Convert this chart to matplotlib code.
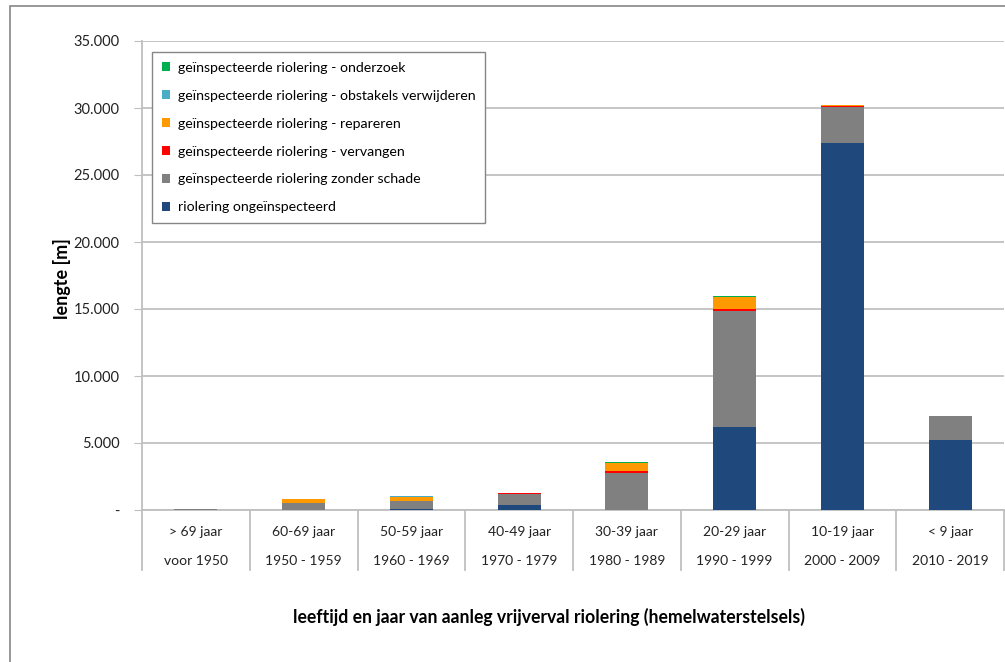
import numpy as np
import matplotlib.pyplot as plt
from matplotlib.patches import Patch, Rectangle
from matplotlib.ticker import FuncFormatter
import matplotlib.transforms as mtransforms

plt.rcParams['font.family'] = ['Lato', 'DejaVu Sans']

# leeftijdsklassen en aanlegperiodes
leeftijd = ['> 69 jaar', '60-69 jaar', '50-59 jaar', '40-49 jaar',
            '30-39 jaar', '20-29 jaar', '10-19 jaar', '< 9 jaar']
periode = ['voor 1950', '1950 - 1959', '1960 - 1969', '1970 - 1979',
           '1980 - 1989', '1990 - 1999', '2000 - 2009', '2010 - 2019']

# lengte per categorie [m]
ongeinspecteerd = [0, 0, 70, 370, 0, 6190, 27390, 5250]
zonder_schade = [70, 500, 620, 820, 2790, 8630, 2690, 1740]
vervangen = [0, 40, 0, 50, 150, 200, 50, 0]
repareren = [0, 300, 300, 0, 600, 870, 70, 0]
obstakels = [0, 0, 40, 0, 0, 30, 30, 50]
onderzoek = [0, 0, 0, 60, 70, 80, 0, 0]

series = [
    ('riolering ongeïnspecteerd', ongeinspecteerd, '#1F497D'),
    ('geïnspecteerde riolering zonder schade', zonder_schade, '#808080'),
    ('geïnspecteerde riolering - vervangen', vervangen, '#FF0000'),
    ('geïnspecteerde riolering - repareren', repareren, '#FF9900'),
    ('geïnspecteerde riolering - obstakels verwijderen', obstakels, '#4BACC6'),
    ('geïnspecteerde riolering - onderzoek', onderzoek, '#00B050'),
]

W, H = 1005, 662
fig = plt.figure(figsize=(W / 100, H / 100), dpi=100)

# buitenrand van de grafiek
fig.add_artist(Rectangle((10 / W, -0.1), 1.2, (656 / H) + 0.1, transform=fig.transFigure,
                         fill=False, edgecolor='#868686', linewidth=1.2))

x0, x1, ytop, ybot = 142, 1004, 41, 510
ax = fig.add_axes([x0 / W, 1 - ybot / H, (x1 - x0) / W, (ybot - ytop) / H])

x = np.arange(len(leeftijd))
bottom = np.zeros(len(leeftijd))
for name, vals, col in series:
    vals = np.array(vals, dtype=float)
    ax.bar(x, vals, 0.4, bottom=bottom, color=col, label=name, zorder=3)
    bottom += vals

ax.set_xlim(-0.5, len(leeftijd) - 0.5)
ax.set_ylim(0, 35000)
ax.set_yticks(np.arange(0, 35001, 5000))
ax.yaxis.set_major_formatter(FuncFormatter(
    lambda v, p: '-' if v == 0 else f'{int(v):,}'.replace(',', '.')))
ax.tick_params(axis='y', length=6, color='#BFBFBF', labelsize=10.5,
               labelcolor='#222222', pad=10)
ax.set_xticks([])
ax.grid(axis='y', color='#C0C0C0', linewidth=1.3, zorder=0)

for s in ['top', 'right']:
    ax.spines[s].set_visible(False)
ax.spines['left'].set_color('#BFBFBF')
ax.spines['bottom'].set_color('#BFBFBF')
ax.spines['left'].set_linewidth(1.3)
ax.spines['bottom'].set_linewidth(1.3)

# categorie-scheidingen en labels in twee rijen
trans = mtransforms.blended_transform_factory(ax.transData, ax.transAxes)
sep = -60 / (ybot - ytop)
ax.plot([-0.5, -0.5], [0, sep], transform=trans, color='#BFBFBF', lw=1.3, clip_on=False)
for i in range(len(leeftijd)):
    ax.plot([i + 0.5, i + 0.5], [0, sep], transform=trans, color='#BFBFBF',
            lw=1.3, clip_on=False)
    ax.text(i, -22 / (ybot - ytop), leeftijd[i], transform=trans, ha='center',
            va='center', fontsize=10, color='#222222')
    ax.text(i, -51 / (ybot - ytop), periode[i], transform=trans, ha='center',
            va='center', fontsize=10, color='#222222')

fig.text(549 / W, 1 - 617 / H, 'leeftijd en jaar van aanleg vrijverval riolering (hemelwaterstelsels)',
         ha='center', va='center', fontsize=12.7, fontweight='bold')
fig.text(62 / W, 1 - 279 / H, 'lengte [m]', rotation=90, ha='center', va='center',
         fontsize=13, fontweight='bold')

handles = [Patch(facecolor=c, label=n) for n, v, c in series][::-1]
leg = ax.legend(handles=handles, loc='upper left',
                bbox_to_anchor=((152 - x0) / (x1 - x0), (ybot - 52) / (ybot - ytop)),
                fontsize=10.2, frameon=True, fancybox=False, framealpha=1,
                edgecolor='#868686', handlelength=0.6, handleheight=0.6,
                handletextpad=0.5, labelspacing=1.12, borderpad=0.7,
                borderaxespad=0)
leg.get_frame().set_linewidth(1.0)
leg.set_zorder(5)

fig.savefig('out.png', dpi=100)
